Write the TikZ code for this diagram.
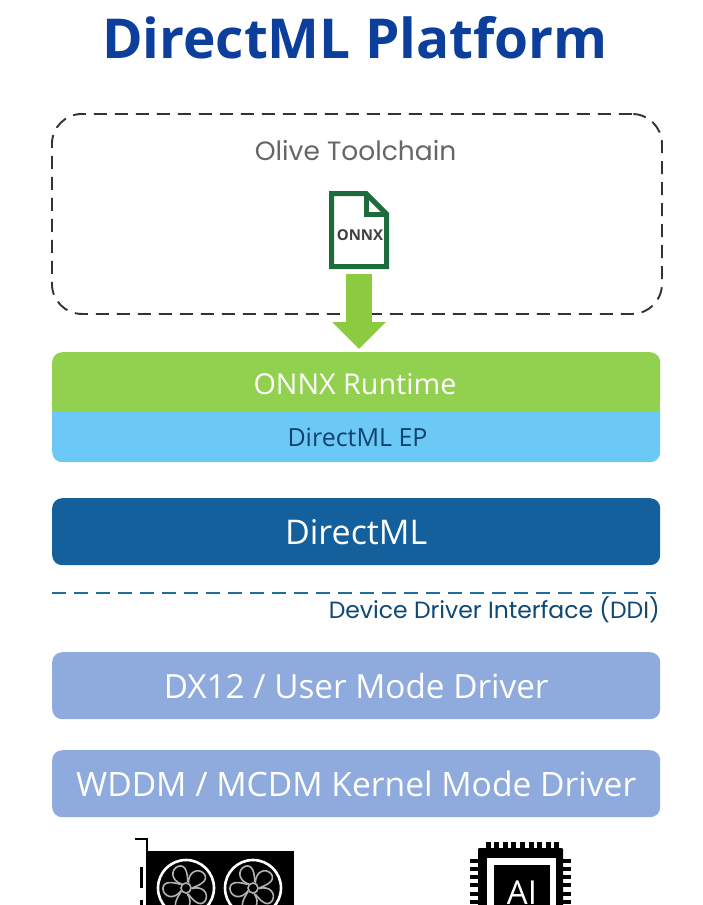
\documentclass[tikz,border=0pt]{standalone}
\usepackage{fontspec}
\setmainfont{Open Sans}
\newfontfamily\geo{Poppins}
\usetikzlibrary{arrows.meta}
\definecolor{titleblue}{HTML}{0B3F9B}
\definecolor{rtgreen}{HTML}{92D14F}
\definecolor{epblue}{HTML}{6CC8F4}
\definecolor{dmlblue}{HTML}{14609C}
\definecolor{drvblue}{HTML}{8FAADC}
\definecolor{filegreen}{HTML}{1E6B3C}
\definecolor{arrowgreen}{HTML}{8CCB3F}
\definecolor{ddiblue}{HTML}{1F6E9E}
\tikzset{
  box/.style={rounded corners=10pt,minimum width=608pt,inner sep=0pt,anchor=north west,align=center},
  drv/.style={box,fill=drvblue,text=white,minimum height=67pt},
  fanring/.style={draw=white,line width=2.6pt,fill=black},
  blade/.style={draw=white!70!black,line width=1.6pt},
  pin/.style={fill=black}
}
\begin{document}
\begin{tikzpicture}[x=1pt,y=-1pt]
\useasboundingbox (0,0) rectangle (702,905);
\clip (0,0) rectangle (702,905);
\fill[white] (0,0) rectangle (702,905);
\node[font=\fontsize{55}{58}\selectfont\bfseries,text=titleblue,inner sep=0pt] (title) at (355,38) {DirectML Platform};
\node[draw=black!80,line width=1.9pt,dash pattern=on 13pt off 8pt,rounded corners=30pt,minimum width=610pt,minimum height=200pt,anchor=north west,inner sep=0pt] (olive) at (51,113) {};
\node[font=\geo\fontsize{26.5}{29}\selectfont,text=black!60,inner sep=0pt] (olivetext) at (355.5,151) {Olive Toolchain};
% ONNX file
\coordinate (fc) at (359,230);
\node[minimum width=60pt,minimum height=78pt,inner sep=0pt] (onnxfile) at (fc) {};
\draw[filegreen,line width=5pt,line join=miter,fill=white]
  (331.5,193.5) -- (366,193.5) -- (386.5,214) -- (386.5,266.5) -- (331.5,266.5) -- cycle;
\draw[filegreen,line width=5pt,line join=miter] (366,193.5) -- (366,214) -- (386.5,214);
\node[font=\fontsize{15}{16}\selectfont\bfseries,text=black!75,inner sep=0pt] (onnxlabel) at (360,235) {ONNX};
% layers
\node[box,fill=epblue,minimum height=62pt] (ep) at (52,400) {};
\node[box,fill=rtgreen,minimum height=59pt] (runtime) at (52,352) {};
\fill[rtgreen] (52,395) rectangle (660,411);
\node[font=\fontsize{25}{28}\selectfont,text=dmlblue!70!black,inner sep=0pt] (eptext) at (357.5,437) {DirectML EP};
\node[font=\fontsize{28.7}{31}\selectfont,text=white,inner sep=0pt] (rttext) at (355,384) {ONNX Runtime};
\node[box,fill=dmlblue,text=white,font=\fontsize{34}{37}\selectfont,minimum height=67pt] (dml) at (52,498) {DirectML};
\coordinate (ddia) at (52,593);
\coordinate (ddib) at (656,593);
\draw[ddiblue,line width=1.5pt,dash pattern=on 14pt off 8pt] (ddia) -- (ddib);
\node[font=\geo\fontsize{23.5}{26}\selectfont,text=dmlblue!75!black,inner sep=0pt,anchor=east] (dditext) at (660,610) {Device Driver Interface (DDI)};
\node[drv,font=\fontsize{33.3}{36}\selectfont] (dx) at (52,652) {DX12 / User Mode Driver};
\node[drv,font=\fontsize{33.6}{36}\selectfont] (wddm) at (52,750) {WDDM / MCDM Kernel Mode Driver};
% arrow
\draw[arrowgreen,line width=26pt,shorten <=5pt,shorten >=3pt,-{Triangle[width=52pt,length=27pt]}] (onnxfile.south) -- (onnxfile.south |- runtime.north);
% GPU
\draw[black,line width=1.7pt] (134.5,839) -- (147,839) -- (147,905);
\fill[black] (148,851) rectangle (294,905);
\fill[black] (139.5,867) rectangle (143,888);
\fill[black] (139.5,900) rectangle (143,905);
\foreach \cx/\nm in {186/a,253/b}{
  \node[fanring,circle,minimum size=56pt,inner sep=0pt] (fan\nm) at (\cx,888) {};
  \foreach \ang in {20,92,164,236,308}{
    \begin{scope}[shift={(\cx,888)},rotate=\ang]
      \draw[blade] (4,-4) .. controls (8,-15) and (19,-15) .. (22,-7) .. controls (24,1) and (14,2) .. (6,2);
    \end{scope}
  }
  \draw[blade,fill=black] (\cx,888) circle (5pt);
}
% chip
\foreach \i in {0,...,8}{
  \fill[pin] (485.5+\i*8.6,841.5) rectangle (490.5+\i*8.6,850);
}
\foreach \i in {0,...,5}{
  \fill[pin] (470,858.5+\i*8.3) rectangle (480,862.5+\i*8.3);
  \fill[pin] (561,858.5+\i*8.3) rectangle (571,862.5+\i*8.3);
}
\fill[black,rounded corners=1pt] (478,848) rectangle (563,910);
\fill[white] (487,858) rectangle (556,910);
\fill[black] (494,865) rectangle (550,910);
\node[font=\fontsize{33}{36}\selectfont,text=white,inner sep=0pt,anchor=base] (ai) at (522,904) {AI};
\end{tikzpicture}
\end{document}
